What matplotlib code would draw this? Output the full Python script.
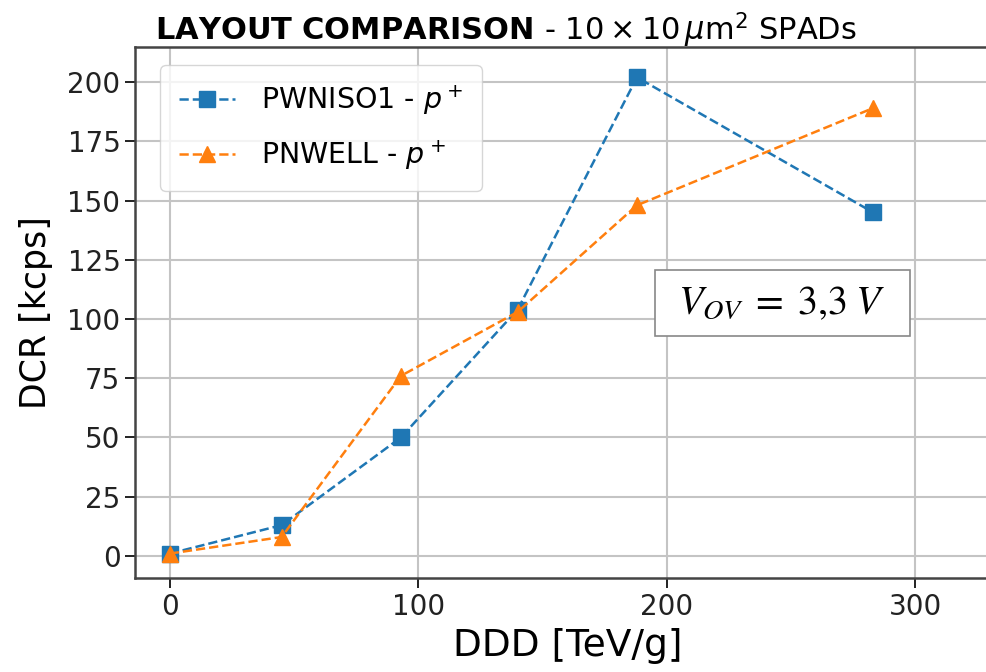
import matplotlib
matplotlib.use("Agg")
import matplotlib.pyplot as plt

plt.rcParams.update({"font.family": "DejaVu Sans", "mathtext.fontset": "dejavusans"})

# fluence points (DDD, TeV/g) and dark count rate (kcps)
ddd = [0, 45, 93, 140, 188, 283]
dcr_pwniso1 = [1, 13, 50, 104, 202, 145]
dcr_pnwell = [1, 8, 76, 103, 148, 189]
labels = [r"PWNISO1 - $p^+$", r"PNWELL - $p^+$"]

BLUE = "#1f77b4"
ORANGE = "#ff7f0e"
SPINE = "#444444"

W, H = 987, 672
fig = plt.figure(figsize=(W / 100, H / 100), dpi=100)
# axes run off the right edge of the picture, as in the reference crop
x0, x1 = -14, 360
y0, y1 = -9.3, 214.8
ax_w = (x1 - x0) * 2.485
ax = fig.add_axes([135 / W, 1 - 578 / H, ax_w / W, (578 - 47) / H])

ax.plot(ddd, dcr_pwniso1, ls="--", marker="s", color=BLUE, lw=1.8, ms=12,
        label=labels[0])
ax.plot(ddd, dcr_pnwell, ls="--", marker="^", color=ORANGE, lw=1.8, ms=12,
        label=labels[1])

ax.set_xlim(x0, x1)
ax.set_ylim(y0, y1)
ax.set_xticks([0, 100, 200, 300])
ax.set_yticks(range(0, 201, 25))
ax.grid(True, color="#c4c4c4", lw=1.5)
ax.set_axisbelow(True)
ax.tick_params(labelsize=20, length=7, width=1.4, colors="#222222")
for s in ax.spines.values():
    s.set_color(SPINE)
    s.set_linewidth(1.8)
ax.spines["right"].set_visible(False)

ax.set_xlabel("DDD [TeV/g]", fontsize=27, labelpad=5)
ax.xaxis.label.set_x((568 - 135) / ax_w)  # centred on the visible part
ax.set_ylabel("DCR [kcps]", fontsize=25, labelpad=10)

ax.legend(loc="upper left", bbox_to_anchor=(160 / W, 1 - 65 / H),
          bbox_transform=fig.transFigure, borderaxespad=0, fontsize=20.5,
          labelspacing=0.75, borderpad=0.65, handlelength=2.0,
          handletextpad=0.9, framealpha=0.8)

fig.text(155 / W, 1 - 30 / H,
         r"$\mathbf{LAYOUT\ COMPARISON}$ - $10 \times 10\,\mu$m$^2$ SPADs",
         fontsize=22, ha="left", va="center")

# overvoltage annotation box
fig.patches.append(plt.Rectangle((655 / W, 1 - 336 / H), 255 / W, 66 / H,
                                 transform=fig.transFigure, facecolor="white",
                                 edgecolor="#888888", lw=1.2, zorder=5))
fig.text(782 / W, 1 - 303 / H, r"$V_{OV}\;=\;3{,}3\;V$", fontsize=29,
         math_fontfamily="stix", ha="center", va="center", zorder=6)

fig.savefig("out.png", dpi=100, facecolor="white")
